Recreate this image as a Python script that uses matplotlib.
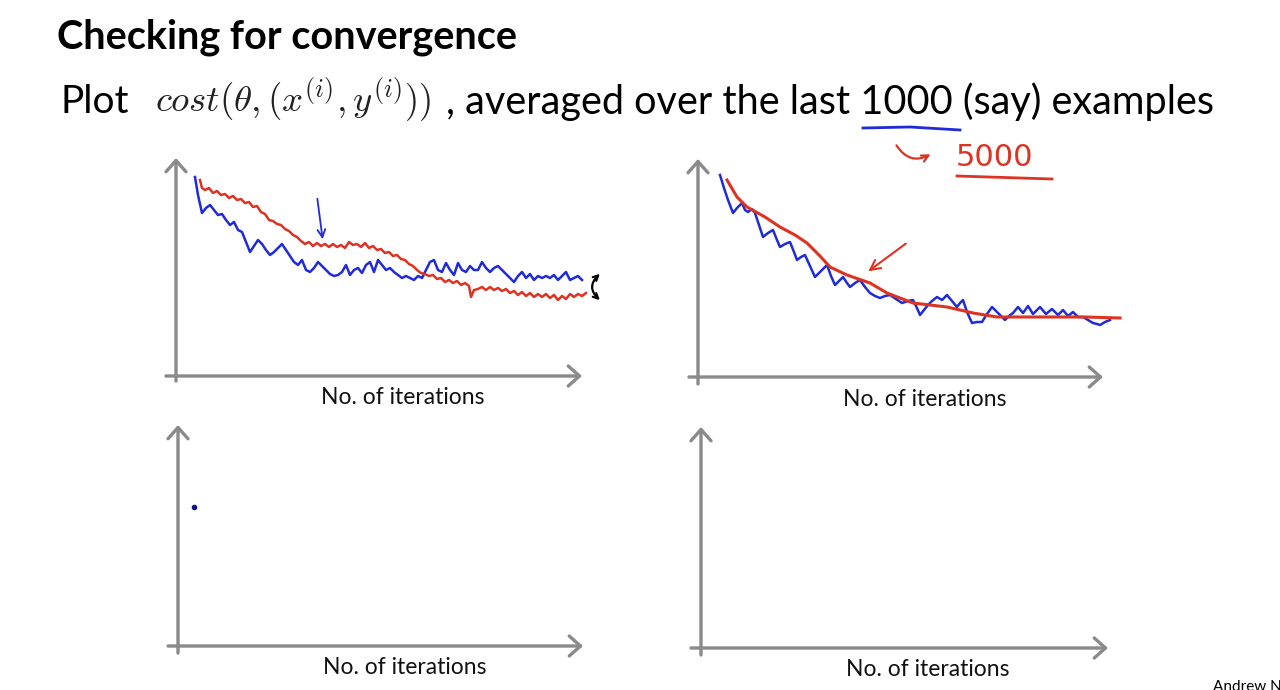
import matplotlib.pyplot as plt
from matplotlib.lines import Line2D
from matplotlib.patches import FancyArrowPatch

plt.rcParams['mathtext.fontset'] = 'cm'

W, H = 1280, 690
GRAY = '#8a8a8a'
BLUE = '#1f2bd8'
RED = '#dd3322'

# top left panel: averaged over 1000 (blue) vs 5000 (red) examples
tl_blue_it = [19, 22, 26, 30, 34, 38, 42, 46, 50, 54, 58, 62, 66, 70, 74, 78, 82, 86, 90, 94,
              98, 102, 106, 110, 114, 118, 122, 126, 130, 134, 138, 142, 146, 150, 154, 158, 162,
              166, 170, 174, 178, 182, 186, 190, 194, 198, 202, 206, 210, 214, 218, 222, 226, 230,
              234, 238, 242, 246, 250, 254, 258, 262, 266, 270, 274, 278, 282, 286, 290, 294, 298,
              302, 306, 310, 314, 318, 322, 326, 330, 334, 338, 342, 346, 350, 354, 358, 362, 366,
              370, 374, 378, 382, 386, 390, 394, 398, 402, 406]
tl_blue_cost = [199, 181, 163, 168, 171, 166, 161, 162, 156, 151, 154, 146, 144, 134, 124, 130,
                136, 132, 126, 121, 124, 128, 132, 126, 120, 114, 111, 116, 106, 104, 108, 114,
                110, 106, 102, 100, 101, 104, 111, 101, 106, 108, 103, 111, 114, 104, 116, 111,
                106, 108, 104, 101, 98, 100, 98, 96, 100, 98, 106, 114, 116, 106, 104, 113, 106,
                101, 113, 106, 104, 110, 106, 106, 114, 108, 104, 108, 110, 106, 102, 98, 94, 100,
                104, 98, 102, 96, 100, 98, 100, 98, 101, 96, 100, 104, 96, 98, 100, 96]

tl_red_it = [24, 26, 29, 33, 37, 41, 45, 49, 53, 57, 61, 65, 69, 73, 77, 81, 85, 89, 93, 97,
             101, 105, 109, 113, 117, 121, 125, 129, 133, 137, 141, 145, 149, 153, 157, 161, 165,
             169, 173, 177, 181, 185, 189, 193, 197, 201, 205, 209, 213, 217, 221, 225, 229, 233,
             237, 241, 245, 249, 253, 257, 261, 265, 269, 273, 277, 281, 285, 289, 293, 295, 298,
             302, 306, 310, 314, 318, 322, 326, 330, 334, 338, 342, 346, 350, 354, 358, 362, 366,
             370, 374, 378, 382, 386, 390, 394, 398, 402, 406, 410]
tl_red_cost = [196, 188, 186, 188, 183, 185, 181, 182, 178, 180, 176, 177, 173, 174, 169, 170,
               164, 162, 156, 155, 152, 151, 147, 145, 141, 139, 135, 132, 134, 130, 133, 130,
               132, 129, 132, 129, 131, 128, 134, 131, 132, 129, 133, 128, 130, 126, 127, 123,
               124, 120, 121, 117, 116, 112, 110, 106, 103, 102, 100, 101, 97, 98, 94, 96, 93,
               95, 91, 93, 90, 79, 86, 87, 89, 86, 89, 86, 88, 85, 87, 83, 85, 81, 84, 80, 83,
               79, 82, 79, 82, 78, 81, 76, 80, 77, 82, 79, 82, 80, 83]

# top right panel: noisy (blue) vs smoothed (red)
tr_blue_it = [22, 26, 30, 35, 39, 44, 47, 50, 54, 57, 61, 65, 70, 75, 79, 82, 87, 92, 96, 99,
              103, 107, 112, 117, 123, 129, 133, 137, 141, 145, 149, 152, 157, 162, 167, 172, 177,
              182, 187, 192, 198, 204, 210, 215, 219, 222, 226, 230, 234, 239, 244, 249, 254, 259,
              262, 265, 269, 274, 279, 284, 289, 294, 298, 302, 307, 311, 315, 320, 325, 330, 335,
              342, 348, 354, 360, 365, 370, 375, 380, 385, 390, 395, 399, 402, 407, 412]
tr_blue_cost = [202, 189, 177, 164, 169, 174, 167, 165, 168, 164, 152, 140, 144, 147, 137, 130,
                133, 135, 125, 117, 120, 122, 111, 100, 106, 112, 101, 92, 96, 100, 94, 90, 94,
                97, 90, 84, 81, 79, 81, 82, 78, 74, 76, 77, 69, 62, 67, 72, 76, 80, 77, 82, 76,
                70, 74, 77, 65, 54, 55, 55, 63, 70, 66, 62, 57, 61, 64, 70, 64, 71, 63, 70, 63,
                68, 62, 67, 61, 65, 60, 60, 57, 54, 53, 52, 55, 57]

tr_red_it = [29, 39, 49, 67, 82, 97, 109, 122, 132, 149, 172, 189, 215, 249, 275, 299, 349, 387, 422]
tr_red_cost = [197, 180, 170, 160, 150, 142, 134, 121, 110, 102, 94, 84, 74, 70, 64, 60, 60, 60, 59]

# bottom left: a single starting point
bl_it = [16]
bl_cost = [139]

# panel layout in pixels: origin x, origin y, x tip, y tip, x-axis start, y-axis bottom
panels = {
    'tl': (176, 376, 582, 158, 166, 381),
    'tr': (698, 377, 1103, 159, 689, 384),
    'bl': (178, 646, 583, 425, 168, 653),
    'br': (701, 648, 1108, 427, 691, 655),
}

fig = plt.figure(figsize=(W / 100, H / 100), dpi=100)
fig.patch.set_facecolor('white')


def fx(px):
    return px / W


def fy(py):
    return 1 - py / H


axes = {}
for key, (ox, oy, xt, yt, xs, yb) in panels.items():
    ax = fig.add_axes([fx(ox), fy(oy), (xt - ox) / W, (oy - yt) / H])
    ax.set_xlim(0, xt - ox)
    ax.set_ylim(0, oy - yt)
    ax.axis('off')
    arrow = dict(arrowstyle='->,head_length=0.45,head_width=0.4', color=GRAY, lw=2.4,
                 mutation_scale=18, shrinkA=0, shrinkB=0)
    ax.annotate('', xy=(xt - ox, 0), xytext=(xs - ox, 0), arrowprops=arrow, annotation_clip=False)
    ax.annotate('', xy=(0, oy - yt), xytext=(0, oy - yb), arrowprops=arrow, annotation_clip=False)
    axes[key] = ax

ax = axes['tl']
ax.plot(tl_blue_it, tl_blue_cost, color=BLUE, lw=1.8, clip_on=False)
ax.plot(tl_red_it, tl_red_cost, color=RED, lw=1.8, clip_on=False)
ax.annotate('', xy=(147, 134), xytext=(141, 180),
            arrowprops=dict(arrowstyle='->', color=BLUE, lw=1.3, mutation_scale=14))
ax.annotate('', xy=(426, 74), xytext=(426, 104), annotation_clip=False,
            arrowprops=dict(arrowstyle='<->', color='black', lw=1.6, mutation_scale=9,
                            connectionstyle='arc3,rad=0.6'))

ax = axes['tr']
ax.plot(tr_blue_it, tr_blue_cost, color=BLUE, lw=1.8, clip_on=False)
ax.plot(tr_red_it, tr_red_cost, color=RED, lw=2.2, clip_on=False)
ax.annotate('', xy=(168, 104), xytext=(210, 135),
            arrowprops=dict(arrowstyle='->', color=RED, lw=1.5, mutation_scale=18))

ax = axes['bl']
ax.plot(bl_it, bl_cost, 'o', color='#101080', ms=3)

# x axis labels
for px, py in [(403, 398), (925, 400), (405, 668), (928, 670)]:
    fig.text(fx(px), fy(py), 'No. of iterations', family='Lato', fontsize=16.5,
             ha='center', va='center', color='#111111')

# slide text
fig.text(fx(57), fy(37), 'Checking for convergence', family='Lato', weight='bold',
         fontsize=28.5, ha='left', va='center', color='black')
fig.text(fx(60), fy(102), 'Plot', family='Lato', fontsize=28, ha='left', va='center')
fig.text(fx(155), fy(100), r'$cost(\theta,(x^{(i)},y^{(i)}))$', fontsize=26.5,
         ha='left', va='center', color='#222222')
fig.text(fx(446), fy(102), ', averaged over the last 1000 (say) examples', family='Lato',
         fontsize=28.5, ha='left', va='center')
fig.text(fx(1213), fy(680), 'Andrew Ng', family='Lato', fontsize=11, ha='left', va='top')

# handwritten notes
fig.add_artist(Line2D([fx(863), fx(910), fx(960)], [fy(128), fy(127), fy(130)],
                      color=BLUE, lw=2))
fig.text(fx(956), fy(158), '5000', family='DejaVu Sans', fontsize=22, color=RED,
         ha='left', va='center')
fig.add_artist(Line2D([fx(957), fx(1052)], [fy(176), fy(179)], color=RED, lw=2))
fig.add_artist(FancyArrowPatch(
    (fx(895), fy(143)), (fx(933), fy(153)), transform=fig.transFigure,
    arrowstyle='->', mutation_scale=12, color=RED, lw=1.6,
    connectionstyle='arc3,rad=0.5'))

fig.savefig('out.png', dpi=100)
